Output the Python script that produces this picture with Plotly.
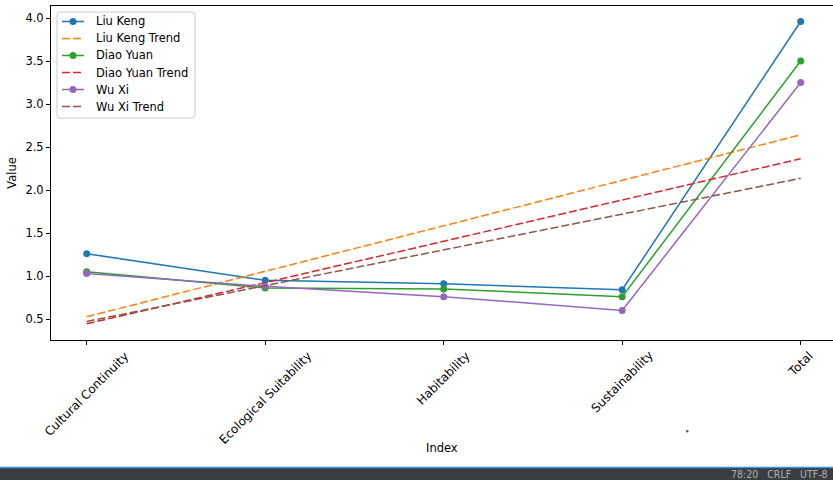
import numpy as np
import plotly.graph_objects as go

# Index categories and scores per site
categories = ["Cultural Continuity", "Ecological Suitability", "Habitability", "Sustainability", "Total"]
liu_keng = [1.26, 0.95, 0.91, 0.84, 3.96]
diao_yuan = [1.05, 0.86, 0.85, 0.76, 3.50]
wu_xi = [1.03, 0.88, 0.76, 0.60, 3.25]

series = [
    ("Liu Keng", liu_keng, "#1f77b4", "#ff7f0e"),
    ("Diao Yuan", diao_yuan, "#2ca02c", "#d62728"),
    ("Wu Xi", wu_xi, "#9467bd", "#8c564b"),
]

FONT_FAMILY = "DejaVu Sans"
font = dict(family=FONT_FAMILY, size=11.5, color="#000000")
DASH = "8px,3px"
xpos = np.arange(len(categories))

fig = go.Figure()
legend_items = []
for name, vals, col, tcol in series:
    fig.add_trace(go.Scatter(
        x=xpos, y=vals, mode="lines+markers", name=name,
        line=dict(color=col, width=1.5),
        marker=dict(color=col, size=7),
    ))
    legend_items.append((name, col, True))
    # least-squares linear trend across the index positions
    slope, intercept = np.polyfit(xpos, vals, 1)
    fig.add_trace(go.Scatter(
        x=xpos, y=slope * xpos + intercept, mode="lines", name=f"{name} Trend",
        line=dict(color=tcol, width=1.5, dash=DASH),
    ))
    legend_items.append((f"{name} Trend", tcol, False))

fig.update_layout(
    width=833, height=480,
    margin=dict(l=51, r=0, t=6, b=140),
    paper_bgcolor="white", plot_bgcolor="white",
    font=font,
    showlegend=False,
    xaxis=dict(
        tickmode="array", tickvals=xpos, ticktext=[""] * len(categories),
        range=[-0.2, 4.181], showgrid=False, zeroline=False,
        showline=True, linecolor="#000000", linewidth=1, mirror=True,
        ticks="outside", ticklen=4, tickcolor="#000000",
    ),
    yaxis=dict(
        range=[0.256, 4.14], tickvals=[0.5, 1.0, 1.5, 2.0, 2.5, 3.0, 3.5, 4.0],
        tickformat=".1f", showgrid=False, zeroline=False,
        showline=True, linecolor="#000000", linewidth=1,
        ticks="outside", ticklen=4, tickcolor="#000000",
        title=dict(text="Value", font=font, standoff=6),
    ),
)

# helpers: pixel position -> paper fraction of the plotting area
def px_x(v):
    return (v - 51) / 782

def px_y(v):
    return (340 - v) / 334

# rotated category labels, centred under each tick
for i, cat in enumerate(categories):
    fig.add_annotation(text=cat, x=xpos[i], xref="x", y=px_y(346), yref="paper",
                       textangle=-45, xanchor="center", yanchor="top",
                       showarrow=False, font=dict(family=FONT_FAMILY, size=12, color="#000000"))
fig.add_annotation(text="Index", x=0.5, xref="paper", y=px_y(448), yref="paper",
                   xanchor="center", yanchor="middle", showarrow=False, font=font)

# legend panel
lx0, lx1, ly0, ly1, r = 57, 195, 12, 118, 3
path = (f"M {px_x(lx0 + r)},{px_y(ly0)} L {px_x(lx1 - r)},{px_y(ly0)} "
        f"Q {px_x(lx1)},{px_y(ly0)} {px_x(lx1)},{px_y(ly0 + r)} "
        f"L {px_x(lx1)},{px_y(ly1 - r)} Q {px_x(lx1)},{px_y(ly1)} {px_x(lx1 - r)},{px_y(ly1)} "
        f"L {px_x(lx0 + r)},{px_y(ly1)} Q {px_x(lx0)},{px_y(ly1)} {px_x(lx0)},{px_y(ly1 - r)} "
        f"L {px_x(lx0)},{px_y(ly0 + r)} Q {px_x(lx0)},{px_y(ly0)} {px_x(lx0 + r)},{px_y(ly0)} Z")
fig.add_shape(type="path", path=path, xref="paper", yref="paper",
              fillcolor="rgba(255,255,255,0.8)", line=dict(color="#cccccc", width=1), layer="above")
row_y = 21.5
for label, col, has_marker in legend_items:
    fig.add_shape(type="line", xref="paper", yref="paper",
                  x0=px_x(62), x1=px_x(84), y0=px_y(row_y), y1=px_y(row_y),
                  line=dict(color=col, width=1.5, dash=None if has_marker else DASH), layer="above")
    if has_marker:
        fig.add_shape(type="circle", xref="paper", yref="paper",
                      x0=px_x(73 - 3.5), x1=px_x(73 + 3.5), y0=px_y(row_y + 3.5), y1=px_y(row_y - 3.5),
                      fillcolor=col, line=dict(width=0), layer="above")
    fig.add_annotation(text=label, xref="paper", yref="paper", x=px_x(94), y=px_y(row_y),
                       xanchor="left", yanchor="middle", showarrow=False, font=font)
    row_y += 17

# editor status strip along the bottom of the window
fig.add_shape(type="rect", xref="paper", yref="paper",
              x0=px_x(0), x1=px_x(833), y0=px_y(480), y1=px_y(467),
              fillcolor="#3a3d41", line=dict(width=0), layer="above")
fig.add_shape(type="line", xref="paper", yref="paper",
              x0=px_x(0), x1=px_x(833), y0=px_y(467.5), y1=px_y(467.5),
              line=dict(color="#3b8eea", width=1.5), layer="above")
fig.add_shape(type="circle", xref="paper", yref="paper",
              x0=px_x(686), x1=px_x(688.5), y0=px_y(432.5), y1=px_y(430),
              fillcolor="#555555", line=dict(width=0))
fig.add_annotation(text="78:20   CRLF   UTF-8", xref="paper", yref="paper",
                   x=px_x(830), y=px_y(474), xanchor="right", yanchor="middle",
                   showarrow=False, font=dict(family="DejaVu Sans Condensed", size=10.5, color="#b0b0b0"))

fig.write_html("out.html")
